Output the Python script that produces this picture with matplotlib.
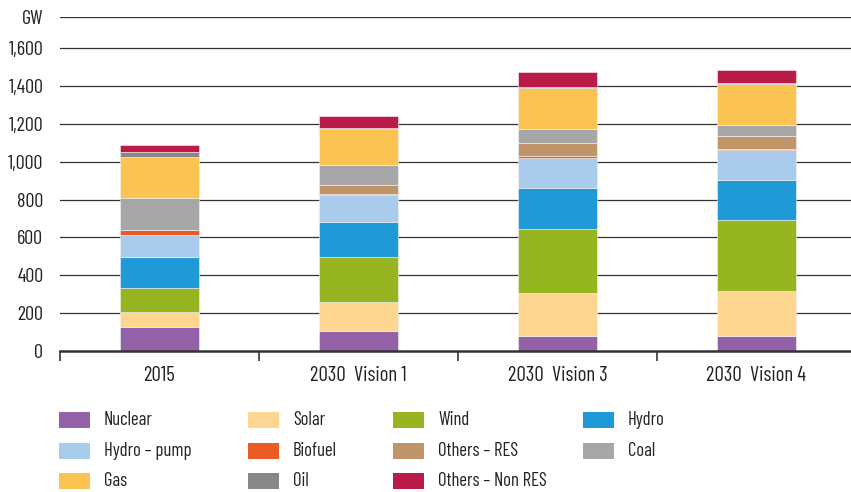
import matplotlib
matplotlib.use("Agg")
import matplotlib.pyplot as plt
from matplotlib.patches import Rectangle
import numpy as np

plt.rcParams['font.family'] = ['Barlow Condensed', 'DejaVu Sans']

# Data (GW)
scenarios = ["2015", "2030  Vision 1", "2030  Vision 3", "2030  Vision 4"]
sources = ["Nuclear", "Solar", "Wind", "Hydro", "Hydro – pump", "Biofuel",
           "Others – RES", "Coal", "Gas", "Oil", "Others – Non RES"]
nuclear = [126, 108, 80, 80]
solar = [79, 150, 225, 236]
wind = [130, 238, 340, 374]
hydro = [160, 185, 215, 215]
hydro_pump = [120, 141, 158, 155]
biofuel = [26, 9, 11, 7]
others_res = [0, 44, 71, 71]
coal = [165, 106, 74, 58]
gas = [217, 190, 218, 216]
oil = [30, 7, 4, 4]
others_non_res = [37, 65, 76, 71]

values = [nuclear, solar, wind, hydro, hydro_pump, biofuel,
          others_res, coal, gas, oil, others_non_res]
colors = ['#9361A8', '#FDD792', '#97B421', '#1F9AD6', '#A9CBEC', '#EA5B25',
          '#C0956A', '#A7A7A7', '#FBC351', '#878787', '#BA1B48']

fig = plt.figure(figsize=(8.51, 4.92), dpi=100)
ax = fig.add_axes([60 / 851, 1 - 351 / 492, 791 / 851, 334 / 492])

x = np.arange(len(scenarios))
bottom = np.zeros(len(scenarios))
for vals, col in zip(values, colors):
    ax.bar(x, vals, width=0.4, bottom=bottom, color=col,
           edgecolor='#f4f4f4', linewidth=0.4, zorder=3)
    bottom += np.array(vals)

# y axis: gridlines + "GW" on top line
ymax = 1765
ax.set_ylim(0, ymax)
yt = list(range(0, 1601, 200)) + [ymax]
ax.set_yticks(yt)
ax.set_yticklabels([f"{v:,}" for v in range(0, 1601, 200)] + ["GW"],
                   fontsize=14.5, color='#222222')
ax.tick_params(axis='y', length=0, pad=12)
for v in yt[1:]:
    ax.axhline(v, color='#333333', linewidth=0.9, zorder=1)

# x axis
ax.set_xlim(-0.5, 3.475)
ax.set_xticks(x)
ax.set_xticklabels(scenarios, fontsize=15, color='#222222')
ax.tick_params(axis='x', which='major', length=0, pad=11)
ax.set_xticks(np.arange(-0.5, 3.5, 1), minor=True)
ax.tick_params(axis='x', which='minor', length=7, width=1.2, color='#333333', direction='out')

for s in ['top', 'right', 'left']:
    ax.spines[s].set_visible(False)
ax.spines['bottom'].set_color('#333333')
ax.spines['bottom'].set_linewidth(1.8)
ax.spines['bottom'].set_zorder(4)

# legend drawn by hand (4 columns, 3 rows)
col_x = [59, 248, 393, 583]
row_y = [420, 450.5, 480.5]
for i, (name, col) in enumerate(zip(sources, colors)):
    r, c = divmod(i, 4)
    px, py = col_x[c], row_y[r]
    fig.patches.append(Rectangle((px / 851, 1 - (py + 8) / 492), 31 / 851, 16 / 492,
                                 transform=fig.transFigure, facecolor=col,
                                 edgecolor='none'))
    fig.text((px + 45) / 851, 1 - py / 492, name, fontsize=13.5,
             ha='left', va='center', color='#222222')

plt.savefig("out.png", dpi=100)
